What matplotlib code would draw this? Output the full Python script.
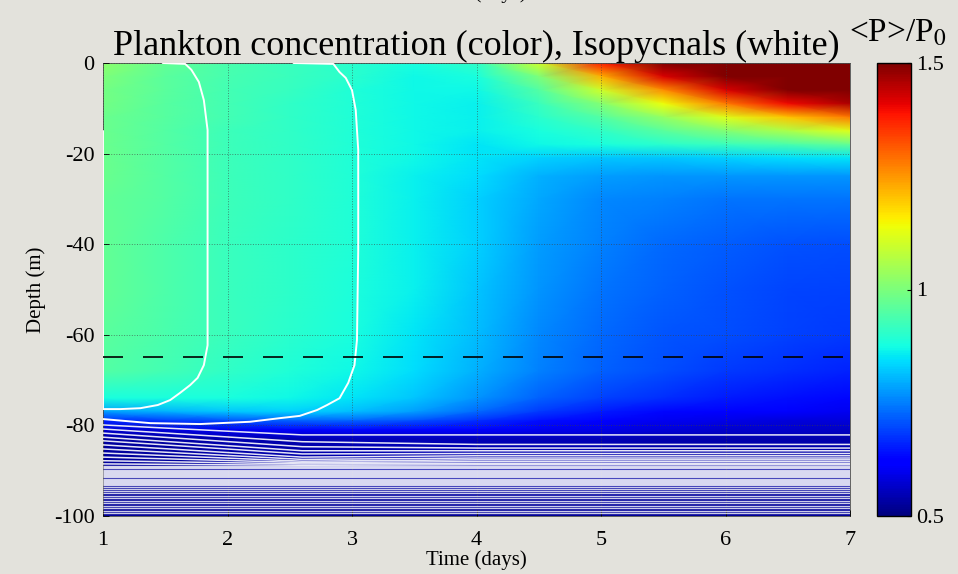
import numpy as np
import matplotlib.pyplot as plt

plt.rcParams['font.family'] = ['Liberation Serif', 'DejaVu Serif']
plt.rcParams['mathtext.fontset'] = 'stix'
plt.rcParams['axes.unicode_minus'] = False

# plankton ratio <P>/P0 on a coarse (depth x time) grid
times = [1.0, 1.5, 2.0, 2.5, 3.0, 3.5, 4.0, 4.5, 5.0, 5.5, 6.0, 6.5, 7.0]
depths = [0, -3, -6, -9, -12, -15, -18, -21, -25, -30, -40, -50, -60,
          -68, -74, -77, -79, -81, -83, -100]
concentration = [
    [1.02, 0.97, 0.94, 0.92, 0.90, 0.88, 0.91, 1.10, 1.38, 1.52, 1.60, 1.62, 1.62],
    [1.00, 0.96, 0.935, 0.92, 0.90, 0.87, 0.88, 1.00, 1.22, 1.42, 1.53, 1.58, 1.60],
    [0.99, 0.96, 0.93, 0.915, 0.89, 0.87, 0.87, 0.95, 1.10, 1.26, 1.42, 1.50, 1.54],
    [0.99, 0.955, 0.93, 0.91, 0.89, 0.87, 0.86, 0.92, 1.01, 1.14, 1.28, 1.40, 1.46],
    [0.98, 0.955, 0.93, 0.91, 0.89, 0.87, 0.86, 0.90, 0.95, 1.03, 1.12, 1.20, 1.28],
    [0.98, 0.95, 0.925, 0.91, 0.89, 0.87, 0.86, 0.88, 0.91, 0.96, 1.01, 1.06, 1.12],
    [0.98, 0.95, 0.925, 0.91, 0.89, 0.87, 0.85, 0.87, 0.88, 0.90, 0.92, 0.94, 0.97],
    [0.98, 0.95, 0.925, 0.91, 0.89, 0.87, 0.85, 0.83, 0.82, 0.82, 0.83, 0.84, 0.85],
    [0.98, 0.95, 0.925, 0.91, 0.89, 0.86, 0.84, 0.80, 0.78, 0.77, 0.77, 0.77, 0.77],
    [0.97, 0.95, 0.925, 0.91, 0.89, 0.86, 0.83, 0.79, 0.76, 0.75, 0.74, 0.74, 0.74],
    [0.97, 0.945, 0.92, 0.905, 0.89, 0.86, 0.83, 0.78, 0.75, 0.73, 0.715, 0.705, 0.70],
    [0.97, 0.945, 0.92, 0.905, 0.885, 0.86, 0.82, 0.77, 0.74, 0.72, 0.705, 0.695, 0.69],
    [0.96, 0.94, 0.92, 0.90, 0.88, 0.85, 0.81, 0.76, 0.73, 0.71, 0.70, 0.69, 0.68],
    [0.95, 0.93, 0.91, 0.89, 0.87, 0.84, 0.80, 0.75, 0.72, 0.70, 0.68, 0.67, 0.66],
    [0.88, 0.88, 0.88, 0.87, 0.85, 0.82, 0.77, 0.72, 0.69, 0.67, 0.65, 0.64, 0.63],
    [0.78, 0.80, 0.82, 0.83, 0.81, 0.78, 0.73, 0.68, 0.65, 0.63, 0.62, 0.61, 0.60],
    [0.66, 0.68, 0.70, 0.72, 0.72, 0.70, 0.67, 0.64, 0.62, 0.60, 0.59, 0.58, 0.58],
    [0.57, 0.58, 0.60, 0.62, 0.63, 0.62, 0.61, 0.60, 0.59, 0.58, 0.57, 0.57, 0.56],
    [0.53, 0.53, 0.54, 0.54, 0.55, 0.55, 0.55, 0.55, 0.55, 0.54, 0.54, 0.54, 0.54],
    [0.52, 0.52, 0.52, 0.52, 0.52, 0.52, 0.52, 0.52, 0.52, 0.52, 0.52, 0.52, 0.52],
]

# the two mixed-layer isopycnals (time in days, depth in m)
iso_a_time = [1.48, 1.66, 1.71, 1.77, 1.81, 1.84, 1.84, 1.84, 1.84, 1.81, 1.76,
              1.70, 1.62, 1.54, 1.44, 1.30, 1.14, 1.0, 1.0, 1.0]
iso_a_depth = [0, -0.2, -1.5, -4.2, -8.2, -14.8, -30.2, -52.3, -62.3, -66.7, -69.5,
               -71.1, -72.8, -74.4, -75.5, -76.2, -76.4, -76.4, -40.0, -15.0]
iso_b_time = [2.53, 2.85, 2.90, 2.95, 3.00, 3.03, 3.05, 3.05, 3.04, 3.02, 2.97,
              2.90, 2.80, 2.72, 2.58, 2.42, 2.18, 1.78, 1.38, 1.0]
iso_b_depth = [0, -0.2, -2.0, -3.3, -6.0, -10.4, -19.2, -41.3, -61.1, -66.7, -70.6,
               -74.0, -75.5, -76.6, -77.9, -78.4, -79.2, -79.7, -79.5, -78.6]

# pycnocline isopycnals: depth at day 1, day 2.6 and from day 4 on
pyc_times = [1.0, 2.6, 4.0, 7.0]
pyc_day1 = [-79.9, -80.8, -81.7, -82.6, -83.4, -84.3, -85.2, -86.1, -87.0, -87.8, -88.5]
pyc_day26 = [-82.1, -83.6, -84.7, -85.6, -86.3, -87.0, -87.5, -87.9, -88.2, -88.5, -88.8]
pyc_late = [-82.1, -84.2, -85.0, -85.6, -86.2, -86.7, -87.2, -87.6, -88.0, -88.4, -88.7]
deep_isopycnals = [-89.0, -89.25, -89.5, -89.75, -90.0, -90.25, -90.5, -90.75, -91.0,
                   -91.25, -91.5, -91.75, -92.0, -92.25, -92.5, -92.75, -93.0, -93.25,
                   -93.5, -94.0, -94.5, -95.0, -95.55, -96.1, -96.65, -97.2, -97.75,
                   -98.3, -98.85, -99.4]

mixing_depth = -65
bg = '#e3e2dc'

fig = plt.figure(figsize=(9.58, 5.74), dpi=100, facecolor=bg)
ax = fig.add_axes([103 / 958, 58 / 574, 747 / 958, 453 / 574])
cax = fig.add_axes([877 / 958, 58 / 574, 34 / 958, 453 / 574])

T, Z = np.meshgrid(times, depths)
mesh = ax.pcolormesh(T, Z, np.array(concentration), cmap='jet', vmin=0.5, vmax=1.5,
                     shading='gouraud', zorder=0)

# isopycnals in white
line_kw = dict(color='white', lw=1.4, solid_capstyle='round', zorder=3)
ax.plot(iso_a_time, iso_a_depth, **line_kw)
ax.plot(iso_b_time, iso_b_depth, **line_kw)
for d1, d2, d3 in zip(pyc_day1, pyc_day26, pyc_late):
    ax.plot(pyc_times, [d1, d2, d3, d3], color='white', lw=1.1, alpha=0.9, zorder=3)
ax.hlines(deep_isopycnals, 1, 7, color='white', lw=1.0, alpha=0.8, zorder=3)

ax.axhline(mixing_depth, color='black', lw=1.2, dashes=(12, 12), zorder=4)

ax.set_xlim(1, 7)
ax.set_ylim(-100, 0)
ax.set_xticks(range(1, 8))
ax.set_yticks(range(-100, 1, 20))
ax.grid(True, ls=':', color='0.25', lw=0.7, alpha=0.6)
ax.set_axisbelow(False)
ax.tick_params(direction='in', length=4, width=0.6, labelsize=16)
ax.tick_params(axis='x', pad=11)
ax.tick_params(axis='y', pad=6)
for s in ax.spines.values():
    s.set_linewidth(0.6)
    s.set_color('0.3')

ax.set_xlabel('Time (days)', fontsize=15, labelpad=0)
ax.set_ylabel('Depth (m)', fontsize=15, labelpad=6)
ax.set_title('Plankton concentration (color), Isopycnals (white)', fontsize=26, pad=4)

cb = fig.colorbar(mesh, cax=cax, ticks=[0.5, 1, 1.5])
cb.ax.set_yticklabels(['0.5', '1', '1.5'])
cb.ax.tick_params(direction='in', length=3, labelsize=16)
cb.outline.set_linewidth(1.0)
fig.text(898 / 958, 1 - 41 / 574, r'<P>/P$_0$', fontsize=24, ha='center', va='baseline')

# label of the panel above, cut off by the figure edge
fig.text(476 / 958, 1 + 2 / 574, 'Time (days)', fontsize=15, ha='center', va='baseline')

fig.savefig('out.png', dpi=100, facecolor=bg)
